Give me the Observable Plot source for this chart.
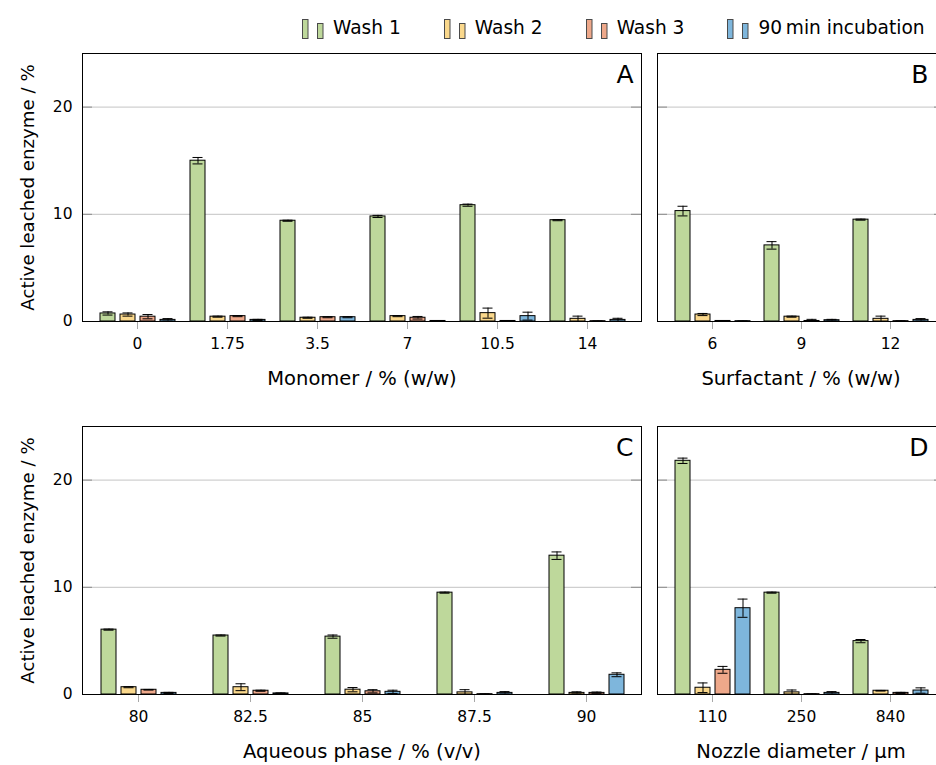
<!DOCTYPE html>
<html><head><meta charset="utf-8">
<script src="https://cdn.jsdelivr.net/npm/d3@7"></script>
<script src="https://cdn.jsdelivr.net/npm/@observablehq/plot@0.6"></script>
<style>
html,body{margin:0;padding:0;background:#fff;overflow:hidden;}
#fig{position:relative;width:936px;height:765px;overflow:hidden;font-family:"DejaVu Sans",sans-serif;}
#fig svg.plot{position:absolute;}
#legend{position:absolute;left:302px;top:17px;display:flex;gap:43px;font-size:18.6px;line-height:22px;white-space:nowrap;z-index:5;}
#legend .item{display:flex;align-items:flex-end;}
#legend svg{margin-right:3px;}
</style></head><body><div id="fig"><div id="legend"></div></div>
<script>
// ---- data ----
const seriesNames = ["Wash 1", "Wash 2", "Wash 3", "90\u2009min incubation"];
const colors = ["#bed89b", "#fad88c", "#eea88a", "#7eb6dc"];
const yTicks = [0, 10, 20];
const yLabel = "Active leached enzyme / %";

// Panel A: monomer
const monomerCats = ["0", "1.75", "3.5", "7", "10.5", "14"];
const monomerWash1 = [0.75, 15.0, 9.4, 9.8, 10.85, 9.45];
const monomerWash1Err = [0.15, 0.3, 0.05, 0.1, 0.1, 0.05];
const monomerWash2 = [0.65, 0.45, 0.35, 0.5, 0.78, 0.25];
const monomerWash2Err = [0.15, 0.05, 0.05, 0.05, 0.47, 0.25];
const monomerWash3 = [0.45, 0.5, 0.4, 0.35, 0.05, 0.03];
const monomerWash3Err = [0.2, 0.05, 0.05, 0.12, 0.03, 0.02];
const monomerInc = [0.15, 0.15, 0.4, 0.05, 0.5, 0.15];
const monomerIncErr = [0.12, 0.05, 0.05, 0.03, 0.37, 0.15];

// Panel B: surfactant
const surfCats = ["6", "9", "12"];
const surfWash1 = [10.3, 7.1, 9.5];
const surfWash1Err = [0.45, 0.35, 0.05];
const surfWash2 = [0.65, 0.45, 0.25];
const surfWash2Err = [0.1, 0.05, 0.25];
const surfWash3 = [0.05, 0.05, 0.03];
const surfWash3Err = [0.03, 0.15, 0.03];
const surfInc = [0.03, 0.12, 0.15];
const surfIncErr = [0.02, 0.08, 0.12];

// Panel C: aqueous phase
const aqCats = ["80", "82.5", "85", "87.5", "90"];
const aqWash1 = [6.05, 5.5, 5.4, 9.5, 12.95];
const aqWash1Err = [0.05, 0.05, 0.15, 0.05, 0.35];
const aqWash2 = [0.68, 0.68, 0.45, 0.2, 0.15];
const aqWash2Err = [0.05, 0.32, 0.2, 0.25, 0.1];
const aqWash3 = [0.44, 0.35, 0.3, 0.03, 0.15];
const aqWash3Err = [0.03, 0.05, 0.15, 0.03, 0.08];
const aqInc = [0.15, 0.1, 0.25, 0.15, 1.84];
const aqIncErr = [0.05, 0.05, 0.15, 0.12, 0.18];

// Panel D: nozzle diameter
const nozCats = ["110", "250", "840"];
const nozWash1 = [21.8, 9.5, 4.98];
const nozWash1Err = [0.25, 0.05, 0.15];
const nozWash2 = [0.63, 0.2, 0.35];
const nozWash2Err = [0.45, 0.22, 0.03];
const nozWash3 = [2.3, 0.03, 0.15];
const nozWash3Err = [0.32, 0.03, 0.05];
const nozInc = [8.05, 0.15, 0.37];
const nozIncErr = [0.85, 0.12, 0.25];

// ---- legend ----
const legend = d3.select("#legend");
seriesNames.forEach((s, i) => {
  const it = legend.append("div").attr("class", "item");
  const sv = it.append("svg").attr("width", 28).attr("height", 21);
  sv.append("rect").attr("x", 0.5).attr("y", 1.5).attr("width", 5.5).attr("height", 19).attr("fill", colors[i]).attr("stroke", "#4a4a4a");
  sv.append("rect").attr("x", 15.5).attr("y", 5.5).attr("width", 5.5).attr("height", 15).attr("fill", colors[i]).attr("stroke", "#4a4a4a");
  it.append("span").text(s);
});

// ---- panels ----
const OFFSET = 54.5;   // distance of first/last group centre from frame edge
const GROUP = 80;      // width of a group of four bars
const H = 392, MT = 53, MB = 71;
const baseStyle = {fontFamily: "DejaVu Sans", fontSize: "15.5px", color: "black", background: "transparent", overflow: "visible"};

function build(cats, vals, errs) {
  const out = [];
  cats.forEach((c, i) => seriesNames.forEach((s, j) => out.push({cat: c, series: s, value: vals[j][i], err: errs[j][i]})));
  return out;
}

function place(svg, left, top) {
  svg.classList.add("plot");
  svg.style.left = left + "px";
  svg.style.top = top + "px";
  document.getElementById("fig").appendChild(svg);
}

function panel({cats, vals, errs, xLabel, letter, letterDx, left, top, areaLeft, areaRight, showY}) {
  const data = build(cats, vals, errs);
  const n = cats.length;
  const R = areaRight - areaLeft;
  const S = (R - 2 * OFFSET) / (n - 1);
  const mL = areaLeft - left, mR = 6;
  const width = mL + R + mR;
  const yScale = {domain: [0, 25], clamp: true, axis: null};

  // background layer: grid, y labels, axis titles
  const bgMarks = [
    Plot.ruleY(yTicks.slice(1), {stroke: "#c4c4c4", strokeWidth: 1}),
    Plot.ruleY(yTicks.slice(1), {stroke: "#8a8a8a", strokeWidth: 1, insetRight: R - 10}),
    Plot.ruleY(yTicks.slice(1), {stroke: "#8a8a8a", strokeWidth: 1, insetLeft: R - 10}),
    Plot.text([xLabel], {frameAnchor: "bottom", dy: 63, fontSize: 19.5}),
    Plot.text([letter], {frameAnchor: "top-right", dx: letterDx, dy: 12, lineAnchor: "top", fontSize: 25})
  ];
  if (showY) {
    bgMarks.push(Plot.text(yTicks, {y: d => d, text: d => String(d), frameAnchor: "left", textAnchor: "end", dx: -10}));
    bgMarks.push(Plot.text([yLabel], {frameAnchor: "left", textAnchor: "middle", rotate: -90, dx: -54, fontSize: 18.2}));
  }
  place(Plot.plot({
    width, height: H, marginLeft: mL, marginRight: mR, marginTop: MT, marginBottom: MB,
    style: baseStyle, y: yScale, marks: bgMarks
  }), left, top);

  // foreground layer: grouped bars with error bars
  place(Plot.plot({
    width, height: H, marginLeft: mL, marginRight: mR, marginTop: MT, marginBottom: MB,
    style: baseStyle,
    fx: {domain: cats, paddingInner: 1 - GROUP / S, paddingOuter: (OFFSET - GROUP / 2) / S, align: 0.5, label: null},
    x: {domain: seriesNames, paddingInner: 0.25, paddingOuter: 0.125, axis: null},
    y: yScale,
    color: {domain: seriesNames, range: colors},
    marks: [
      Plot.barY(data, {fx: "cat", x: "series", y: "value", fill: "series", stroke: "black", strokeWidth: 1}),
      Plot.ruleX(data, {fx: "cat", x: "series", y1: d => d.value - d.err, y2: d => d.value + d.err, stroke: "black", strokeWidth: 1}),
      Plot.tickY(data, {fx: "cat", x: "series", y: d => d.value + d.err, insetLeft: 2.5, insetRight: 2.5, stroke: "black", strokeWidth: 1}),
      Plot.tickY(data, {fx: "cat", x: "series", y: d => d.value - d.err, insetLeft: 2.5, insetRight: 2.5, stroke: "black", strokeWidth: 1}),
      Plot.axisFx({anchor: "bottom", tickSize: 8, stroke: "#a8a8a8", fill: "black", tickPadding: 8, label: null})
    ]
  }), left, top);

  // frame on top
  place(Plot.plot({
    width, height: H, marginLeft: mL, marginRight: mR, marginTop: MT, marginBottom: MB,
    style: baseStyle, y: yScale,
    marks: [Plot.frame({stroke: "black", strokeWidth: 1})]
  }), left, top);
}

panel({cats: monomerCats,
  vals: [monomerWash1, monomerWash2, monomerWash3, monomerInc],
  errs: [monomerWash1Err, monomerWash2Err, monomerWash3Err, monomerIncErr],
  xLabel: "Monomer / % (w/w)", letter: "A", letterDx: -8, left: 0, top: 0, areaLeft: 82, areaRight: 641, showY: true});
panel({cats: surfCats,
  vals: [surfWash1, surfWash2, surfWash3, surfInc],
  errs: [surfWash1Err, surfWash2Err, surfWash3Err, surfIncErr],
  xLabel: "Surfactant / % (w/w)", letter: "B", letterDx: -16, left: 647, top: 0, areaLeft: 657, areaRight: 944, showY: false});
panel({cats: aqCats,
  vals: [aqWash1, aqWash2, aqWash3, aqInc],
  errs: [aqWash1Err, aqWash2Err, aqWash3Err, aqIncErr],
  xLabel: "Aqueous phase / % (v/v)", letter: "C", letterDx: -8, left: 0, top: 373, areaLeft: 82, areaRight: 641, showY: true});
panel({cats: nozCats,
  vals: [nozWash1, nozWash2, nozWash3, nozInc],
  errs: [nozWash1Err, nozWash2Err, nozWash3Err, nozIncErr],
  xLabel: "Nozzle diameter / \u00b5m", letter: "D", letterDx: -16, left: 647, top: 373, areaLeft: 657, areaRight: 944, showY: false});
</script></body></html>
